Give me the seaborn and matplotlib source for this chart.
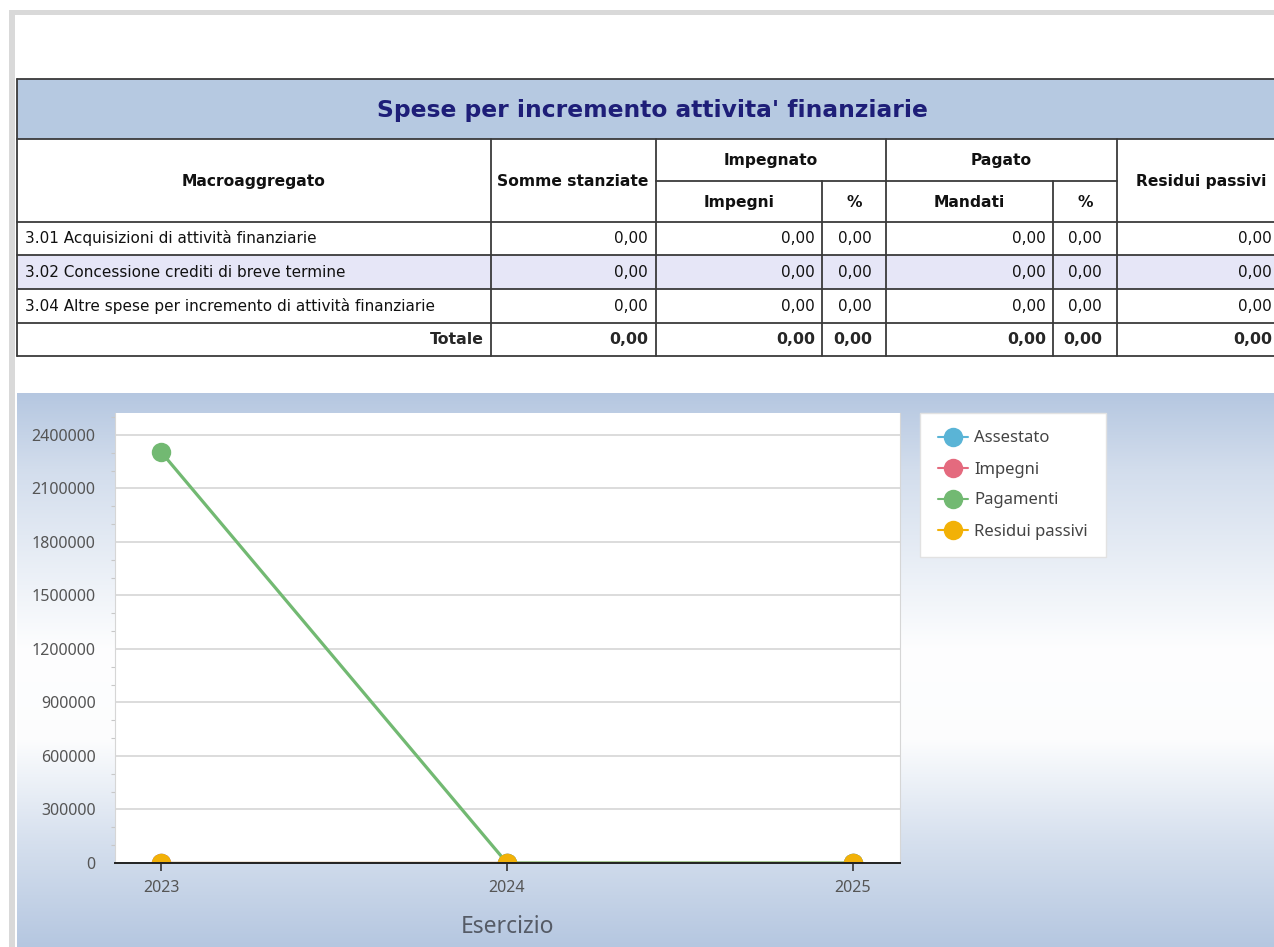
import numpy as np
import pandas as pd
import matplotlib
matplotlib.use("Agg")
import matplotlib.pyplot as plt
from matplotlib.patches import Rectangle
from matplotlib.lines import Line2D
import seaborn as sns

sns.set_style("white")
plt.rcParams["font.family"] = ["DejaVu Sans"]

# ---- data ----
years = [2023, 2024, 2025]
assestato = [0, 0, 0]
impegni = [0, 0, 0]
pagamenti = [2305000, 0, 0]
residui = [0, 0, 0]
series_names = ["Assestato", "Impegni", "Pagamenti", "Residui passivi"]
series_colors = ["#5ab4d6", "#e46a7e", "#72b972", "#f2b107"]
y_ticks = [0, 300000, 600000, 900000, 1200000, 1500000, 1800000, 2100000, 2400000]

table_title = "Spese per incremento attivita' finanziarie"
row_labels = ["3.01 Acquisizioni di attività finanziarie",
              "3.02 Concessione crediti di breve termine",
              "3.04 Altre spese per incremento di attività finanziarie"]
row_values = [["0,00", "0,00", "0,00", "0,00", "0,00", "0,00"]] * 3
total_values = ["0,00", "0,00", "0,00", "0,00", "0,00", "0,00"]

df = pd.DataFrame({
    "Esercizio": years * 4,
    "valore": assestato + impegni + pagamenti + residui,
    "serie": sum([[n] * len(years) for n in series_names], []),
})

W, H = 1274, 947
fig = plt.figure(figsize=(W / 100, H / 100), dpi=100)
fig.patch.set_facecolor("white")

# background layer in pixel coordinates
bg = fig.add_axes([0, 0, 1, 1])
bg.axis("off")

# outer grey frame
bg.add_patch(Rectangle((9, 10), W, 5, color="#d9d9d9", lw=0))
bg.add_patch(Rectangle((9, 10), 6, H, color="#d9d9d9", lw=0))

# chart gradient background
ys = np.arange(393, H + 1)
stops_y = [393, 470, 650, 740, 840, H]
c_top = np.array([0.71, 0.78, 0.88])
white = np.array([1.0, 1.0, 1.0])
stops_c = [c_top, c_top * 0.6 + white * 0.4, white * 0.98 + c_top * 0.02, white * 0.96 + c_top * 0.04,
           c_top * 0.55 + white * 0.45, c_top]
grad = np.stack([np.interp(ys, stops_y, [c[i] for c in stops_c]) for i in range(3)], axis=1)
bg.imshow(grad[:, None, :], extent=(17, W, H, 393), aspect="auto", origin="upper", zorder=0)

# table
line_kw = dict(color="#3a3a3a", lw=1.3, zorder=3)
bg.add_patch(Rectangle((17, 79), W, 60, facecolor="#b6c9e1", lw=0, zorder=1))
bg.add_patch(Rectangle((17, 255), W, 34, facecolor="#e6e6f7", lw=0, zorder=1))
for y in [79, 139, 222, 255, 289, 323, 356]:
    bg.plot([17, W], [y, y], **line_kw)
bg.plot([656, 1117], [181, 181], **line_kw)
bg.plot([17, 17], [79, 356], **line_kw)
for x in [491, 656, 886, 1117]:
    bg.plot([x, x], [139, 356], **line_kw)
for x in [822, 1053]:
    bg.plot([x, x], [181, 356], **line_kw)

bg.text(652, 110, table_title, ha="center", va="center", fontsize=16.8,
        fontweight="bold", color="#1e1e78", zorder=4)
hdr = dict(ha="center", va="center", fontsize=11.2, fontweight="bold", color="#111111", zorder=4)
bg.text(254, 181, "Macroaggregato", **hdr)
bg.text(573, 181, "Somme stanziate", **hdr)
bg.text(771, 160, "Impegnato", **hdr)
bg.text(1001, 160, "Pagato", **hdr)
bg.text(739, 202, "Impegni", **hdr)
bg.text(854, 202, "%", **hdr)
bg.text(969, 202, "Mandati", **hdr)
bg.text(1085, 202, "%", **hdr)
bg.text(1201, 181, "Residui passivi", **hdr)

val_x = [648, 815, 872, 1046, 1102, 1272]
row_y = [238, 272, 306]
for lab, vals, y in zip(row_labels, row_values, row_y):
    bg.text(25, y, lab, ha="left", va="center", fontsize=11, color="#111111", zorder=4)
    for x, v in zip(val_x, vals):
        bg.text(x, y, v, ha="right", va="center", fontsize=11, color="#111111", zorder=4)
bg.text(484, 339, "Totale", ha="right", va="center", fontsize=11.3, fontweight="bold", zorder=4)
for x, v in zip(val_x, total_values):
    bg.text(x, 339, v, ha="right", va="center", fontsize=11.3, fontweight="bold", zorder=4)

bg.set_xlim(0, W)
bg.set_ylim(H, 0)

# chart
ax = fig.add_axes([115 / W, (H - 863) / H, 785 / W, 450 / H])
ax.set_facecolor("white")
sns.lineplot(data=df, x="Esercizio", y="valore", hue="serie", hue_order=series_names,
             palette=series_colors, marker="o", markersize=14, markeredgewidth=0,
             linewidth=2.3, legend=False, ax=ax)
ax.set_xlim(2022.867, 2025.136)
ax.set_ylim(0, 2523000)
ax.set_xticks(years)
ax.set_xticklabels([str(y) for y in years])
ax.set_yticks(y_ticks)
ax.set_yticklabels([str(v) for v in y_ticks])
ax.set_yticks(np.arange(0, 2500001, 100000), minor=True)
ax.yaxis.grid(True, color="#d9d9d9", lw=1.3)
ax.set_axisbelow(True)
ax.spines["top"].set_visible(False)
ax.spines["right"].set_color("#d6d6d6")
ax.spines["left"].set_color("#d6d6d6")
ax.spines["bottom"].set_color("#222222")
ax.spines["bottom"].set_linewidth(1.4)
ax.spines["bottom"].set_zorder(5)

ax.tick_params(axis="y", which="major", length=0, pad=14, labelcolor="#555555")
ax.tick_params(axis="y", which="minor", left=True, length=3, color="#c8c8c8", width=0.8)
ax.tick_params(axis="x", which="major", bottom=True, length=6, width=1.2, color="#333333", pad=6,
               labelcolor="#555555")
for lab in ax.get_xticklabels() + ax.get_yticklabels():
    lab.set_fontfamily("Noto Sans")
    lab.set_fontsize(11.5)
ax.set_xlabel("Esercizio", fontsize=16.5, family="Noto Sans", color="#555b66", labelpad=14)
ax.set_ylabel("")

handles = [Line2D([0], [0], color=c, marker="o", markersize=14, markeredgewidth=0, lw=1.5)
           for c in series_colors]
leg = ax.legend(handles, series_names, loc="upper left",
                bbox_to_anchor=(920 / W, 1 - 413 / H), bbox_transform=fig.transFigure,
                frameon=True, fancybox=False, framealpha=1, handlelength=1.8,
                handletextpad=0.42, labelspacing=0.9, borderpad=1.05, borderaxespad=0,
                prop={"family": "Noto Sans", "size": 12})
leg.get_frame().set_edgecolor("#e2e2e2")
leg.get_frame().set_linewidth(1)
for t in leg.get_texts():
    t.set_color("#444444")

fig.savefig("out.png", dpi=100)
